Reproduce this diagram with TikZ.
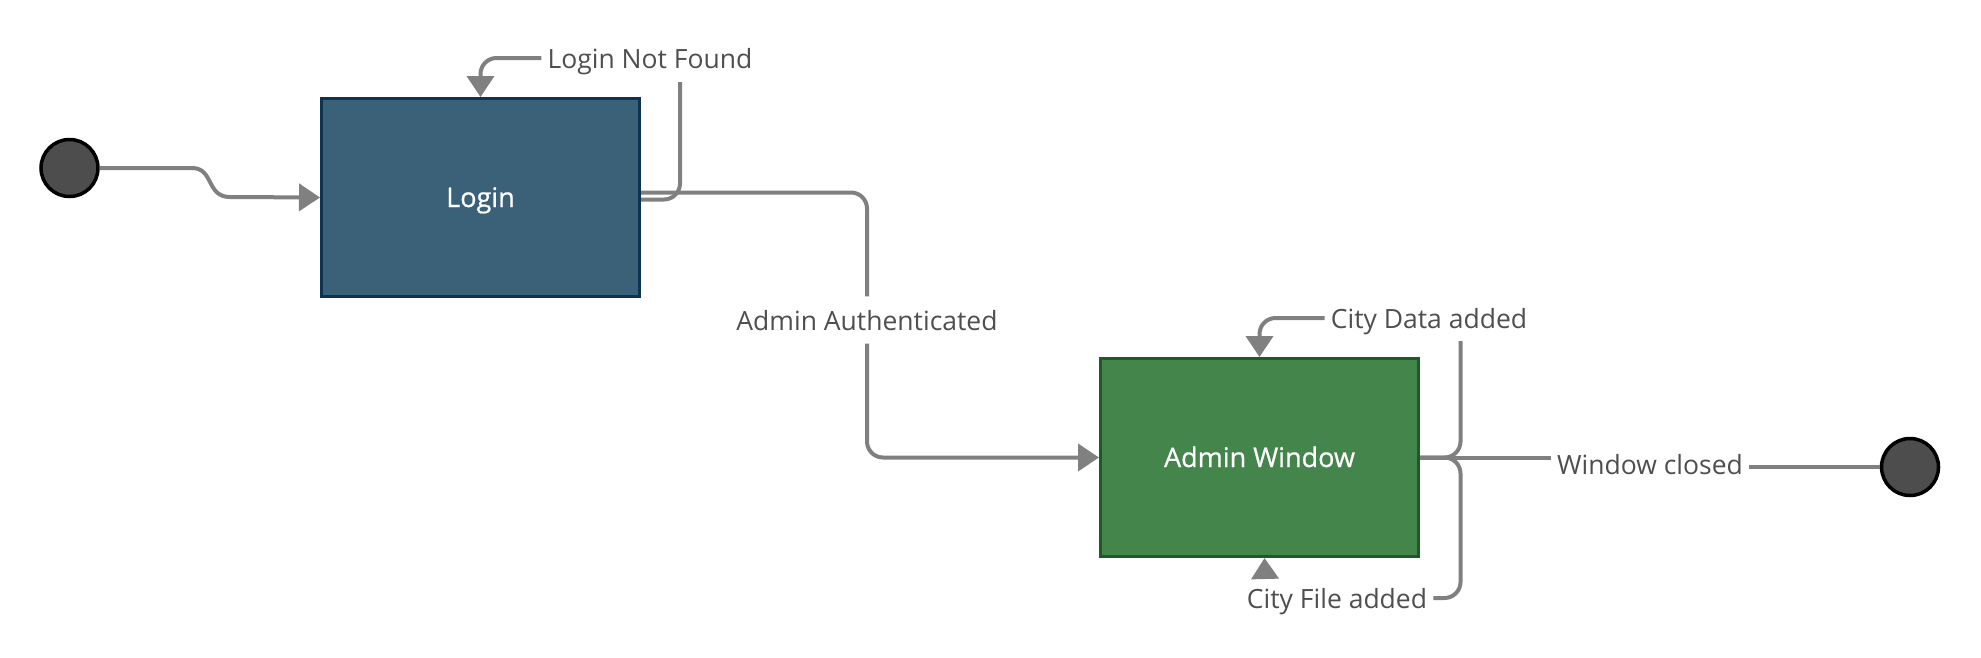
\documentclass[tikz,border=0pt]{standalone}
\usepackage{fontspec}
\setmainfont{Open Sans}
\newfontfamily\boxfont[FakeBold=0.7]{Open Sans}
\usetikzlibrary{arrows.meta,calc}
\definecolor{loginfill}{HTML}{3A6178}
\definecolor{loginline}{HTML}{0E3352}
\definecolor{awfill}{HTML}{44854C}
\definecolor{awline}{HTML}{1E5A28}
\definecolor{conngray}{HTML}{808080}
\definecolor{labgray}{HTML}{4F4F4F}
\definecolor{dotfill}{HTML}{4D4D4D}
\begin{document}
\begin{tikzpicture}[x=1pt,y=-1pt,
  statebox/.style={rectangle,line width=3pt,minimum width=318pt,minimum height=198pt,
    text=white,font=\boxfont\fontsize{27}{30}\selectfont,text height=19pt,text depth=0pt},
  dot/.style={circle,draw=black,fill=dotfill,line width=3.5pt,minimum size=57pt,inner sep=0pt},
  lab/.style={text=labgray,font=\fontsize{26.5}{30}\selectfont,inner xsep=6pt,inner ysep=2pt,
    text height=23pt,text depth=2pt},
  conn/.style={draw=conngray,line width=4pt,rounded corners=16pt},
  tip/.style={-{Triangle[length=21pt,width=27pt]}}]
\useasboundingbox (0,0) rectangle (1981,657);
% states
\node[dot] (start) at (69.5,168) {};
\node[statebox,fill=loginfill,draw=loginline] (login) at (480.5,197.5) {Login};
\node[statebox,fill=awfill,draw=awline] (aw) at (1259.5,457.5) {Admin Window};
\node[dot] (end) at (1910,467) {};
% labels
\node[lab] (lnf) at (650,58) {Login Not Found};
\node[lab,inner ysep=11pt] (aa) at (867,320) {Admin Authenticated};
\node[lab] (cda) at (1429,318) {City Data added};
\node[lab] (cfa) at (1337,598) {City File added};
\node[lab] (wc) at (1650,464) {Window closed};
\coordinate (lnfr) at (680,82);
\coordinate (cdar) at (1460.5,341);
% connectors
\draw[conn,tip,rounded corners=0pt] (start.east) -- (192,168) .. controls (214,168) and (206,197) .. (230,197) -- (login.west);
\draw[conn] ([yshift=-2]login.east) -| (lnfr);
\draw[conn,tip] (lnf.west) -| (login.north);
\draw[conn] ([yshift=5]login.east) -| (aa.north);
\draw[conn,tip] (aa.south) |- (aw.west);
\draw[conn] (aw.east) -| (cdar);
\draw[conn,tip] (cda.west) -| (aw.north);
\draw[conn] (aw.east) -| (1460.5,598) -- (cfa.east);
\draw[conn,tip] ([xshift=-72,yshift=6]cfa.north) -- ([xshift=5]aw.south);
\draw[conn] (aw.east) -- (aw.east -| wc.west);
\draw[conn] (wc.east |- end.west) -- (end.west);
\end{tikzpicture}
\end{document}
